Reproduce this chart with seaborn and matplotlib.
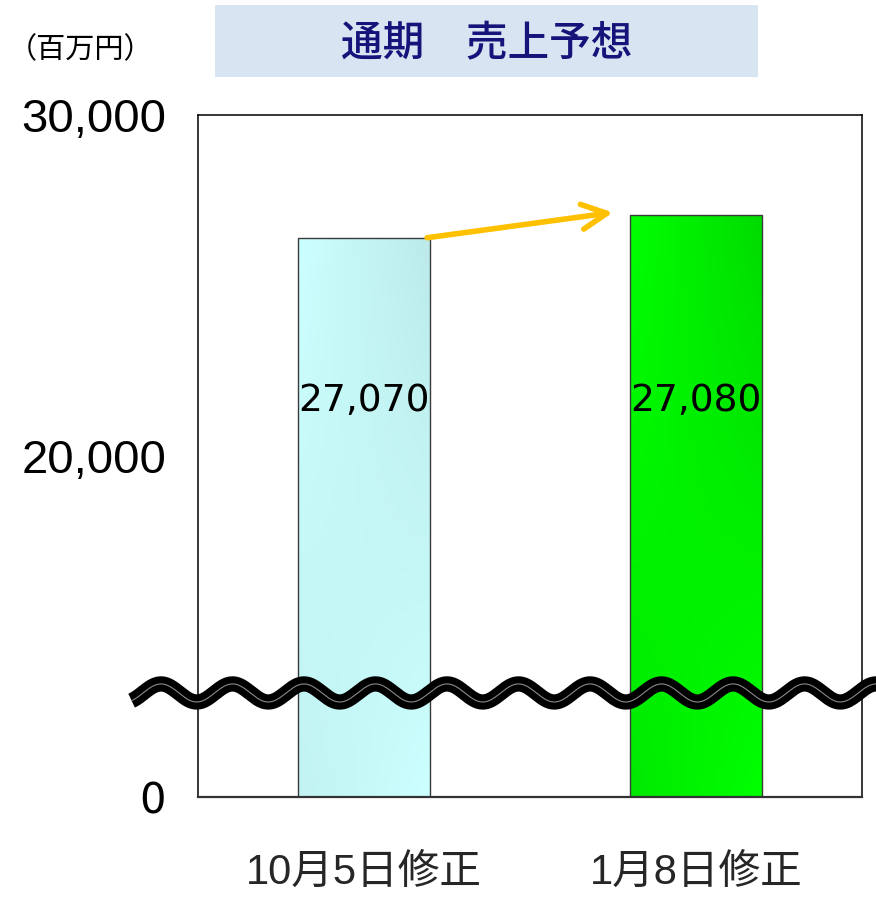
import numpy as np
import matplotlib
matplotlib.use("Agg")
import matplotlib.pyplot as plt
from matplotlib.patches import Rectangle
from matplotlib.lines import Line2D
import seaborn as sns

# chart data
categories = ["10月5日修正", "1月8日修正"]
bar_heights = [26400, 27080]          # heights as drawn in the picture
value_labels = ["27,070", "27,080"]    # printed values
y_ticks = [10000, 20000, 30000]
y_tick_labels = ["0", "20,000", "30,000"]
bar_colors = ["#c6f6f6", "#00f000"]

sns.set_style("white")
plt.rcParams["font.family"] = ["Noto Sans CJK JP", "DejaVu Sans"]

fig = plt.figure(figsize=(8.76, 8.99), dpi=100)
ax = fig.add_axes([0.226, 0.1135, 0.758, 0.7586])

sns.barplot(
    x=categories,
    y=bar_heights,
    hue=categories,
    palette=bar_colors,
    width=0.4,
    edgecolor="#3a3a3a",
    linewidth=1,
    legend=False,
    ax=ax,
)

ax.set_xlim(-0.5, 1.5)
ax.set_ylim(y_ticks[0], y_ticks[-1])

# gradient fill inside the bars
grads = [
    (np.array([0.80, 1.0, 1.0]), np.array([0.74, 0.92, 0.92])),
    (np.array([0.0, 1.0, 0.0]), np.array([0.0, 0.86, 0.0])),
]
for patch, (c_light, c_dark) in zip(ax.patches, grads):
    x0 = patch.get_x()
    w = patch.get_width()
    top = patch.get_height()
    t = np.linspace(0, 1, 60)[None, :]
    v = np.linspace(0, 1, 40)[:, None]
    mix = t * (1 - v) + (1 - t) * v * 0.6
    img = c_light[None, None, :] * (1 - mix[..., None]) + c_dark[None, None, :] * mix[..., None]
    im = ax.imshow(img, extent=(x0, x0 + w, y_ticks[0], top), aspect="auto",
                   origin="upper", zorder=0.5)
    im.set_clip_path(patch)
    patch.set_facecolor("none")
ax.set_xlim(-0.5, 1.5)
ax.set_ylim(y_ticks[0], y_ticks[-1])

# value labels inside the bars
for i, lab in enumerate(value_labels):
    ax.text(i, 21600, lab, ha="center", va="center", fontsize=27,
            family=["DejaVu Sans"], color="black", zorder=3)

# arrow between bar tops
ax.annotate(
    "",
    xy=(1 - 0.25, bar_heights[1] + 60),
    xytext=(0 + 0.19, bar_heights[0]),
    arrowprops=dict(arrowstyle="->", color="#ffc000", lw=4, mutation_scale=45,
                    shrinkA=0, shrinkB=0),
    zorder=4,
)

# axes styling
for s in ax.spines.values():
    s.set_visible(True)
    s.set_color("black")
    s.set_linewidth(1.1)
ax.spines["bottom"].set_color("#333333")
ax.spines["bottom"].set_linewidth(1.6)

ax.set_yticks(y_ticks)
ax.set_yticklabels(y_tick_labels, family=["Liberation Sans"], fontsize=34)
ax.tick_params(axis="y", direction="in", length=9, width=1, pad=23, colors="black")
ax.get_yticklabels()[0].set_fontsize(30)
ax.get_yticklabels()[0].set_family(["DejaVu Sans"])

ax.set_xticks([0, 1])
ax.set_xticklabels(categories, family=["Liberation Sans", "Noto Sans CJK JP"],
                   fontsize=30)
ax.tick_params(axis="x", length=0, pad=40)
ax.set_xticks([0.5], minor=True)
ax.tick_params(axis="x", which="minor", direction="in", length=12, width=1, color="#333333")
ax.set_xlabel("")
ax.set_ylabel("")

# wavy break mark across the axis
wx = np.linspace(-0.70, 1.56, 800)
wy = 13050 + 265 * np.cos(2 * np.pi * (wx - (-0.396)) / 0.2154)
ax.add_line(Line2D(wx, wy, color="black", lw=11, clip_on=False, zorder=6,
                   solid_capstyle="butt"))
ax.add_line(Line2D(wx, wy, color="#8a8a8a", lw=0.8, clip_on=False, zorder=7,
                   solid_capstyle="butt"))

# title box
fig.patches.append(Rectangle((0.2454, 0.9143), 0.620, 0.080, transform=fig.transFigure,
                             facecolor="#d7e4f1", edgecolor="none", zorder=0))
fig.text(0.5554, 0.951, "通期　売上予想", ha="center", va="center", fontsize=30,
         color="#14147a", fontweight="medium")
fig.text(0.009, 0.944, "（百万円）", ha="left", va="center", fontsize=21, color="black")

fig.savefig("out.png", dpi=100)
